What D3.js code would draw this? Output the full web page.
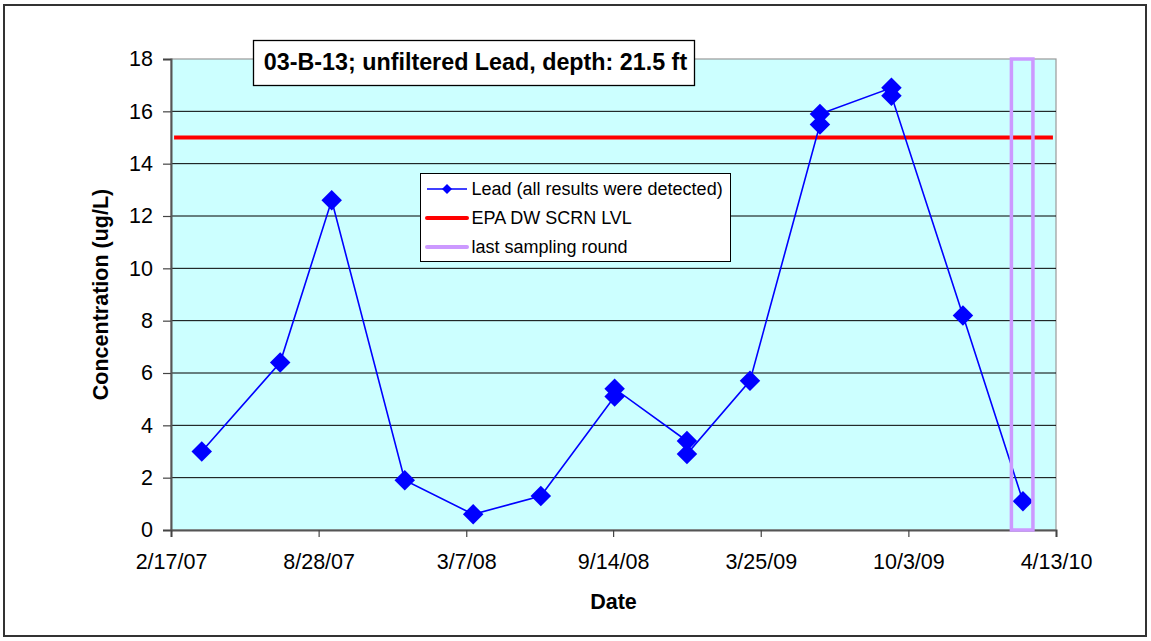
<!DOCTYPE html>
<html>
<head>
<meta charset="utf-8">
<script src="https://cdn.jsdelivr.net/npm/d3@7"></script>
<style>
  html, body { margin: 0; padding: 0; background: #ffffff; }
  svg { display: block; font-family: Arial, "Liberation Sans", sans-serif; }
</style>
</head>
<body>
<svg id="chart" width="1151" height="641"></svg>
<script>
// Lead results for well 03-B-13 (unfiltered, depth 21.5 ft)
const sampleDates = [
  "2007-03-29", "2007-07-09", "2007-09-14", "2007-12-18", "2008-03-16",
  "2008-06-12", "2008-09-16", "2008-09-16", "2008-12-19", "2008-12-19",
  "2009-03-11", "2009-06-10", "2009-06-10", "2009-09-11", "2009-09-11",
  "2009-12-13", "2010-03-01"
];
const leadValues = [
  3.0, 6.4, 12.6, 1.9, 0.6,
  1.3, 5.1, 5.4, 3.4, 2.9,
  5.7, 15.5, 15.9, 16.9, 16.6,
  8.2, 1.1
];

// EPA drinking-water screening level
const epaDates = ["2007-02-21", "2010-04-09"];
const epaLevel = 15;

// Window marking the last sampling round
const lastRoundDates = ["2010-02-14", "2010-03-14"];
const lastRoundRange = [0, 18];

// Axes
const xDomainDates = ["2007-02-17", "2010-04-13"];
const xTickDates = ["2007-02-17", "2007-08-28", "2008-03-07", "2008-09-14",
                    "2009-03-25", "2009-10-03", "2010-04-13"];
const yDomain = [0, 18];
const yTicks = [0, 2, 4, 6, 8, 10, 12, 14, 16, 18];

const titleText = "03-B-13; unfiltered Lead, depth: 21.5 ft";
const xLabel = "Date";
const yLabel = "Concentration (ug/L)";
const legendLabels = ["Lead (all results were detected)", "EPA DW SCRN LVL", "last sampling round"];

const parse = d3.utcParse("%Y-%m-%d");
const fmt = d3.utcFormat("%-m/%-d/%y");

const svg = d3.select("#chart");
const plot = { left: 171, right: 1056, top: 59, bottom: 530 };

const x = d3.scaleUtc().domain(xDomainDates.map(parse)).range([plot.left, plot.right]);
const y = d3.scaleLinear().domain(yDomain).range([plot.bottom, plot.top]);

// Outer chart border
svg.append("rect")
  .attr("x", 4).attr("y", 5).attr("width", 1142).attr("height", 631)
  .attr("fill", "#ffffff").attr("stroke", "#333333").attr("stroke-width", 2);

// Plot area background
svg.append("rect")
  .attr("x", plot.left).attr("y", plot.top)
  .attr("width", plot.right - plot.left).attr("height", plot.bottom - plot.top)
  .attr("fill", "#CCFFFF").attr("stroke", "#999999").attr("stroke-width", 1.2);

// Horizontal gridlines
svg.append("g")
  .selectAll("line")
  .data(yTicks.filter(v => v > yDomain[0] && v < yDomain[1]))
  .join("line")
  .attr("x1", plot.left).attr("x2", plot.right)
  .attr("y1", d => y(d)).attr("y2", d => y(d))
  .attr("stroke", "#000000").attr("stroke-width", 1);

// Y axis
const yAxis = svg.append("g")
  .attr("transform", `translate(${plot.left},0)`)
  .call(d3.axisLeft(y).tickValues(yTicks).tickSize(8).tickPadding(10).tickFormat(d3.format("d")));
yAxis.select(".domain").attr("stroke", "#555555").attr("stroke-width", 2);
yAxis.selectAll(".tick line").attr("stroke", "#444444").attr("stroke-width", 1.2);
yAxis.selectAll(".tick text")
  .attr("font-family", "Arial, 'Liberation Sans', sans-serif")
  .attr("font-size", 21.5).attr("fill", "#000000");

// X axis
const xAxis = svg.append("g")
  .attr("transform", `translate(0,${plot.bottom})`)
  .call(d3.axisBottom(x).tickValues(xTickDates.map(parse)).tickSize(7).tickPadding(17).tickFormat(fmt));
xAxis.select(".domain").attr("stroke", "#555555").attr("stroke-width", 2);
xAxis.selectAll(".tick line").attr("stroke", "#444444").attr("stroke-width", 1.2);
xAxis.selectAll(".tick text")
  .attr("font-family", "Arial, 'Liberation Sans', sans-serif")
  .attr("font-size", 21.5).attr("fill", "#000000");

// EPA screening level
svg.append("line")
  .attr("x1", x(parse(epaDates[0]))).attr("x2", x(parse(epaDates[1])))
  .attr("y1", y(epaLevel)).attr("y2", y(epaLevel))
  .attr("stroke", "#FF0000").attr("stroke-width", 4);

// Lead series
const pts = sampleDates.map((d, i) => ({ date: parse(d), value: leadValues[i] }));
svg.append("path")
  .datum(pts)
  .attr("fill", "none").attr("stroke", "#0000FF").attr("stroke-width", 1.6)
  .attr("d", d3.line().x(d => x(d.date)).y(d => y(d.value)));

const diamond = d3.symbol().type(d3.symbolSquare).size(210);
svg.append("g")
  .selectAll("path")
  .data(pts)
  .join("path")
  .attr("d", diamond)
  .attr("transform", d => `translate(${x(d.date)},${y(d.value)}) rotate(45)`)
  .attr("fill", "#0000FF");

// Last sampling round window
svg.append("rect")
  .attr("x", x(parse(lastRoundDates[0])))
  .attr("y", y(lastRoundRange[1]))
  .attr("width", x(parse(lastRoundDates[1])) - x(parse(lastRoundDates[0])))
  .attr("height", y(lastRoundRange[0]) - y(lastRoundRange[1]))
  .attr("fill", "none").attr("stroke", "#CC99FF").attr("stroke-width", 3.5);

// Title box
const tb = svg.append("g");
tb.append("rect")
  .attr("x", 253.5).attr("y", 40.5).attr("width", 441).attr("height", 45)
  .attr("fill", "#ffffff").attr("stroke", "#000000").attr("stroke-width", 1.3);
tb.append("text")
  .attr("x", 475.5).attr("y", 69.5)
  .attr("text-anchor", "middle")
  .attr("font-size", 23.3).attr("font-weight", "bold").attr("fill", "#000000")
  .text(titleText);

// Axis titles
svg.append("text")
  .attr("x", (plot.left + plot.right) / 2).attr("y", 609)
  .attr("text-anchor", "middle")
  .attr("font-size", 21.5).attr("font-weight", "bold")
  .text(xLabel);
svg.append("text")
  .attr("transform", `translate(108,${(plot.top + plot.bottom) / 2}) rotate(-90)`)
  .attr("text-anchor", "middle")
  .attr("font-size", 21.5).attr("font-weight", "bold")
  .text(yLabel);

// Legend
const lg = svg.append("g");
lg.append("rect")
  .attr("x", 420.5).attr("y", 173.5).attr("width", 310).attr("height", 88)
  .attr("fill", "#ffffff").attr("stroke", "#000000").attr("stroke-width", 1);
const rows = [189, 218, 247];
const swatchX = [427, 467];
// Lead swatch
lg.append("line")
  .attr("x1", swatchX[0]).attr("x2", swatchX[1]).attr("y1", rows[0]).attr("y2", rows[0])
  .attr("stroke", "#0000FF").attr("stroke-width", 1.6);
lg.append("path")
  .attr("d", d3.symbol().type(d3.symbolSquare).size(50))
  .attr("transform", `translate(${(swatchX[0] + swatchX[1]) / 2},${rows[0]}) rotate(45)`)
  .attr("fill", "#0000FF");
// EPA swatch
lg.append("line")
  .attr("x1", swatchX[0]).attr("x2", swatchX[1]).attr("y1", rows[1]).attr("y2", rows[1])
  .attr("stroke", "#FF0000").attr("stroke-width", 4).attr("stroke-linecap", "round");
// Last round swatch
lg.append("line")
  .attr("x1", swatchX[0]).attr("x2", swatchX[1]).attr("y1", rows[2]).attr("y2", rows[2])
  .attr("stroke", "#CC99FF").attr("stroke-width", 4).attr("stroke-linecap", "round");
lg.selectAll("text.lbl")
  .data(legendLabels)
  .join("text")
  .attr("class", "lbl")
  .attr("x", 471.5).attr("y", (d, i) => rows[i])
  .attr("dy", "0.35em")
  .attr("font-size", 18).attr("fill", "#000000")
  .text(d => d);
</script>
</body>
</html>
